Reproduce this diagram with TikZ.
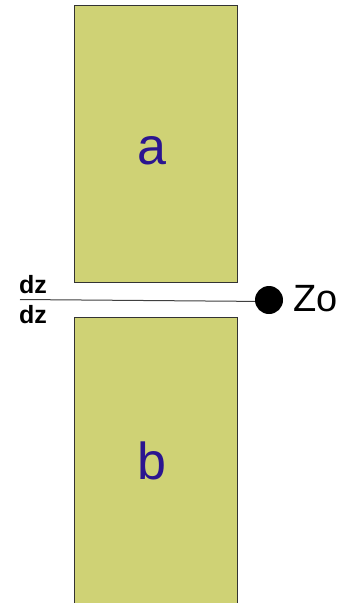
\documentclass[tikz,border=0pt]{standalone}
\usepackage{fontspec}
\setmainfont{Liberation Sans}
\definecolor{boxfill}{HTML}{CFD275}
\definecolor{letterblue}{HTML}{2B1590}
\begin{document}
\begin{tikzpicture}[x=1pt,y=-1pt,
  slab/.style={draw=black!80, line width=1pt, fill=boxfill},
  biglabel/.style={text=letterblue, font=\fontsize{52}{52}\selectfont, inner sep=0pt},
  dzlabel/.style={font=\bfseries\fontsize{25}{25}\selectfont, inner sep=0pt, anchor=west},
  dot/.style={circle, fill=black, minimum size=28pt, inner sep=0pt}]
\useasboundingbox (0,0) rectangle (343,603);
\fill[white] (0,0) rectangle (343,603);
\draw[slab] (74,5) rectangle (237,282);
\path[slab, draw=none] (74,317) rectangle (237,604);
\draw[black!80, line width=1pt] (74,604) -- (74,317) -- (237,317) -- (237,604);
\node[biglabel] (a) at (152,151) {a};
\node[biglabel] (b) at (152,461) {b};
\coordinate (lstart) at (20,299.5);
\draw[black!75, line width=1pt] (lstart) -- (268,301.5);
\node[dot] (zo) at (269,300) {};
\node[anchor=west, inner sep=0pt, font=\fontsize{38}{38}\selectfont] (zol) at (293,299) {Zo};
\node[dzlabel] (dz1) at (19,285) {dz};
\node[dzlabel] (dz2) at (19,315) {dz};
\end{tikzpicture}
\end{document}
